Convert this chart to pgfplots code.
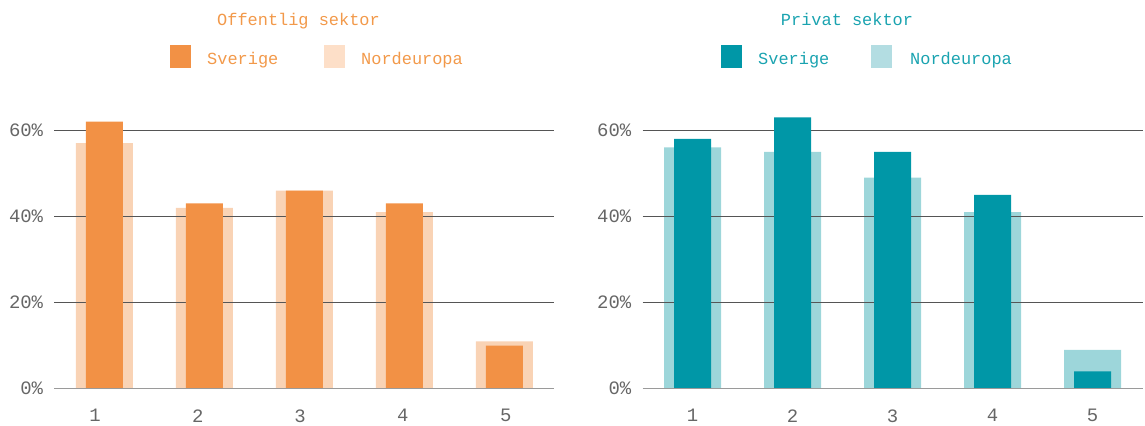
\documentclass[border=0pt]{standalone}
\usepackage{pgfplots}
\pgfplotsset{compat=1.18}
\usepackage{fontspec}
\setmainfont{Liberation Mono}

\definecolor{orD}{HTML}{F29145}
\definecolor{orL}{HTML}{F9D3B5}
\definecolor{orT}{HTML}{F2994A}
\definecolor{orLeg}{HTML}{FDDFC8}
\definecolor{teD}{HTML}{0097A7}
\definecolor{teL}{HTML}{9DD6DA}
\definecolor{teT}{HTML}{1AA3B0}
\definecolor{teLeg}{HTML}{B3DDE2}
\definecolor{gridc}{HTML}{555555}
\definecolor{basec}{HTML}{9A9A9A}
\definecolor{tickc}{HTML}{666666}

\pgfplotsset{
  panel/.style={
    scale only axis, width=500bp, height=280bp,
    xmin=0.5, xmax=5.5, ymin=0, ymax=65,
    axis line style={draw=none}, tick style={draw=none},
    major tick length=0pt, clip=false,
    ytick={0,20,40,60},
    yticklabel={\pgfmathprintnumber{\tick}\%},
    /pgf/number format/assume math mode=true,
    ticklabel style={font=\fontsize{19}{19}\selectfont, text=tickc, inner sep=0pt},
    yticklabel style={anchor=east, xshift=-11bp},
    xticklabel style={anchor=north, yshift=-20.5bp},
    xticklabels={1,2,3,4,5},
  },
}

\begin{document}
\begin{tikzpicture}
\path[use as bounding box] (0,0) rectangle (1145bp,-426bp);

% Offentlig sektor
\begin{axis}[panel, at={(54.3bp,-388.7bp)}, anchor=south west,
  xtick={0.907,1.934,2.957,3.984,5.014}]
  \addplot[ybar, bar width=57bp, fill=orL, draw=none] coordinates {
    (1,57) (2,42) (3,46) (4,41) (5,11)};
  \draw[gridc, line width=1pt] (axis cs:0.5,20) -- (axis cs:5.5,20);
  \draw[gridc, line width=1pt] (axis cs:0.5,40) -- (axis cs:5.5,40);
  \draw[gridc, line width=1pt] (axis cs:0.5,60) -- (axis cs:5.5,60);
  \addplot[ybar, bar width=37bp, fill=orD, draw=none] coordinates {
    (1,62) (2,43) (3,46) (4,43) (5,10)};
  \draw[basec, line width=1.3pt] (axis cs:0.5,0) -- (axis cs:5.5,0);
\end{axis}

% Privat sektor
\begin{axis}[panel, at={(642.5bp,-388.7bp)}, anchor=south west,
  xtick={1,2,3,4,5}]
  \addplot[ybar, bar width=57bp, fill=teL, draw=none] coordinates {
    (1,56) (2,55) (3,49) (4,41) (5,9)};
  \draw[gridc, line width=1pt] (axis cs:0.5,20) -- (axis cs:5.5,20);
  \draw[gridc, line width=1pt] (axis cs:0.5,40) -- (axis cs:5.5,40);
  \draw[gridc, line width=1pt] (axis cs:0.5,60) -- (axis cs:5.5,60);
  \addplot[ybar, bar width=37bp, fill=teD, draw=none] coordinates {
    (1,58) (2,63) (3,55) (4,45) (5,4)};
  \draw[basec, line width=1.3pt] (axis cs:0.5,0) -- (axis cs:5.5,0);
\end{axis}

% titles and legends
\begin{scope}[every node/.style={font=\fontsize{17}{17}\selectfont, inner sep=0pt}]
  \node[text=orT, anchor=base] at (298.5bp,-25bp) {Offentlig sektor};
  \fill[orD] (170bp,-45bp) rectangle (191bp,-68bp);
  \node[text=orT, anchor=base west] at (207bp,-64bp) {Sverige};
  \fill[orLeg] (324bp,-45bp) rectangle (345bp,-68bp);
  \node[text=orT, anchor=base west] at (361bp,-64bp) {Nordeuropa};

  \node[text=teT, anchor=base] at (847bp,-25bp) {Privat sektor};
  \fill[teD] (721bp,-45bp) rectangle (742bp,-68bp);
  \node[text=teT, anchor=base west] at (758bp,-64bp) {Sverige};
  \fill[teLeg] (871bp,-45bp) rectangle (892bp,-68bp);
  \node[text=teT, anchor=base west] at (910bp,-64bp) {Nordeuropa};
\end{scope}
\end{tikzpicture}
\end{document}
